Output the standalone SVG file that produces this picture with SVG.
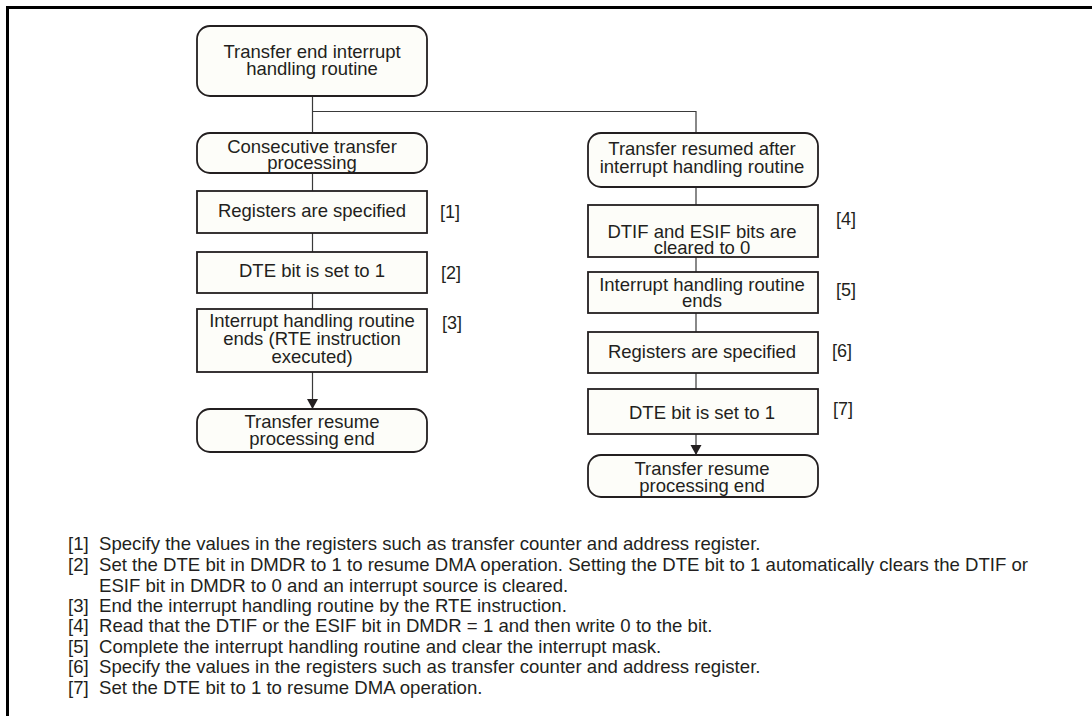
<svg xmlns="http://www.w3.org/2000/svg" width="1092" height="716" viewBox="0 0 1092 716">
<defs>
<style>
.bg{fill:#ffffff}
.frame{fill:none;stroke:#000;stroke-width:3}
.box{fill:#fdfdf9;stroke:#231f20;stroke-width:1.8}
.t{font-family:"Liberation Sans",Arial,sans-serif;font-size:18.5px;fill:#231f20;text-anchor:middle}
.n{font-family:"Liberation Sans",Arial,sans-serif;font-size:18px;fill:#231f20}
.f{font-family:"Liberation Sans",Arial,sans-serif;font-size:18.6px;fill:#231f20}
.c{fill:none;stroke:#3a3a3a;stroke-width:1.2}
</style>
<marker id="ah" viewBox="0 0 10 16" refX="10" refY="8" markerWidth="10" markerHeight="16" markerUnits="userSpaceOnUse" orient="auto">
<path d="M0,2.5 L10,8 L0,13.5 Z" fill="#231f20"/>
</marker>
</defs>
<rect class="bg" x="0" y="0" width="1092" height="716"/>
<path class="frame" d="M7.5,716 V7.5 H1092"/>

<g id="connectors">
<path class="c" d="M312.5,96 V133"/>
<path class="c" d="M312.5,111.5 H696 V133"/>
<path class="c" d="M312.5,173 V191"/>
<path class="c" d="M312.5,233 V252"/>
<path class="c" d="M312.5,293 V309"/>
<path class="c" d="M312.5,372 V409" marker-end="url(#ah)"/>
<path class="c" d="M696,187 V205"/>
<path class="c" d="M696,257 V272"/>
<path class="c" d="M696,313 V332"/>
<path class="c" d="M696,373 V389"/>
<path class="c" d="M696,434 V455" marker-end="url(#ah)"/>
</g>

<g id="start">
<rect class="box" x="197" y="26" width="230" height="70" rx="13"/>
<text class="t" x="312" y="57.5">Transfer end interrupt<tspan x="312" dy="17">handling routine</tspan></text>
</g>

<g id="consecutive">
<rect class="box" x="197" y="133" width="230" height="40" rx="13"/>
<text class="t" x="312" y="152.5">Consecutive transfer<tspan x="312" dy="16">processing</tspan></text>
</g>

<g id="l-registers">
<rect class="box" x="197" y="191" width="230" height="42"/>
<text class="t" x="312" y="217">Registers are specified</text>
<text class="n" x="440" y="218">[1]</text>
</g>

<g id="l-dte">
<rect class="box" x="197" y="252" width="230" height="41"/>
<text class="t" x="312" y="277">DTE bit is set to 1</text>
<text class="n" x="441" y="279">[2]</text>
</g>

<g id="l-ends">
<rect class="box" x="197" y="309" width="230" height="63"/>
<text class="t" x="312" y="327">Interrupt handling routine<tspan x="312" dy="18">ends (RTE instruction</tspan><tspan x="312" dy="18">executed)</tspan></text>
<text class="n" x="442" y="329">[3]</text>
</g>

<g id="l-end">
<rect class="box" x="197" y="409" width="230" height="43" rx="13"/>
<text class="t" x="312" y="428">Transfer resume<tspan x="312" dy="17">processing end</tspan></text>
</g>

<g id="resumed">
<rect class="box" x="588" y="133" width="230" height="54" rx="13"/>
<text class="t" x="702" y="155">Transfer resumed after<tspan x="702" dy="18">interrupt handling routine</tspan></text>
</g>

<g id="r-clear">
<rect class="box" x="588" y="205" width="230" height="52"/>
<text class="t" x="702" y="238">DTIF and ESIF bits are<tspan x="702" dy="16">cleared to 0</tspan></text>
<text class="n" x="836" y="225">[4]</text>
</g>

<g id="r-ends">
<rect class="box" x="588" y="272" width="230" height="41"/>
<text class="t" x="702" y="291">Interrupt handling routine<tspan x="702" dy="16">ends</tspan></text>
<text class="n" x="836" y="296">[5]</text>
</g>

<g id="r-registers">
<rect class="box" x="588" y="332" width="230" height="41"/>
<text class="t" x="702" y="358">Registers are specified</text>
<text class="n" x="832" y="357">[6]</text>
</g>

<g id="r-dte">
<rect class="box" x="588" y="389" width="230" height="45"/>
<text class="t" x="702" y="419">DTE bit is set to 1</text>
<text class="n" x="833" y="415">[7]</text>
</g>

<g id="r-end">
<rect class="box" x="588" y="455" width="230" height="42" rx="13"/>
<text class="t" x="702" y="475">Transfer resume<tspan x="702" dy="17">processing end</tspan></text>
</g>

<g id="notes">
<text class="f" x="68" y="550">[1]</text><text class="f" x="99" y="550">Specify the values in the registers such as transfer counter and address register.</text>
<text class="f" x="68" y="571">[2]</text><text class="f" x="99" y="571">Set the DTE bit in DMDR to 1 to resume DMA operation. Setting the DTE bit to 1 automatically clears the DTIF or<tspan x="99" dy="20.5">ESIF bit in DMDR to 0 and an interrupt source is cleared.</tspan></text>
<text class="f" x="68" y="612">[3]</text><text class="f" x="99" y="612">End the interrupt handling routine by the RTE instruction.</text>
<text class="f" x="68" y="632">[4]</text><text class="f" x="99" y="632">Read that the DTIF or the ESIF bit in DMDR = 1 and then write 0 to the bit.</text>
<text class="f" x="68" y="653">[5]</text><text class="f" x="99" y="653">Complete the interrupt handling routine and clear the interrupt mask.</text>
<text class="f" x="68" y="673">[6]</text><text class="f" x="99" y="673">Specify the values in the registers such as transfer counter and address register.</text>
<text class="f" x="68" y="694">[7]</text><text class="f" x="99" y="694">Set the DTE bit to 1 to resume DMA operation.</text>
</g>
</svg>
